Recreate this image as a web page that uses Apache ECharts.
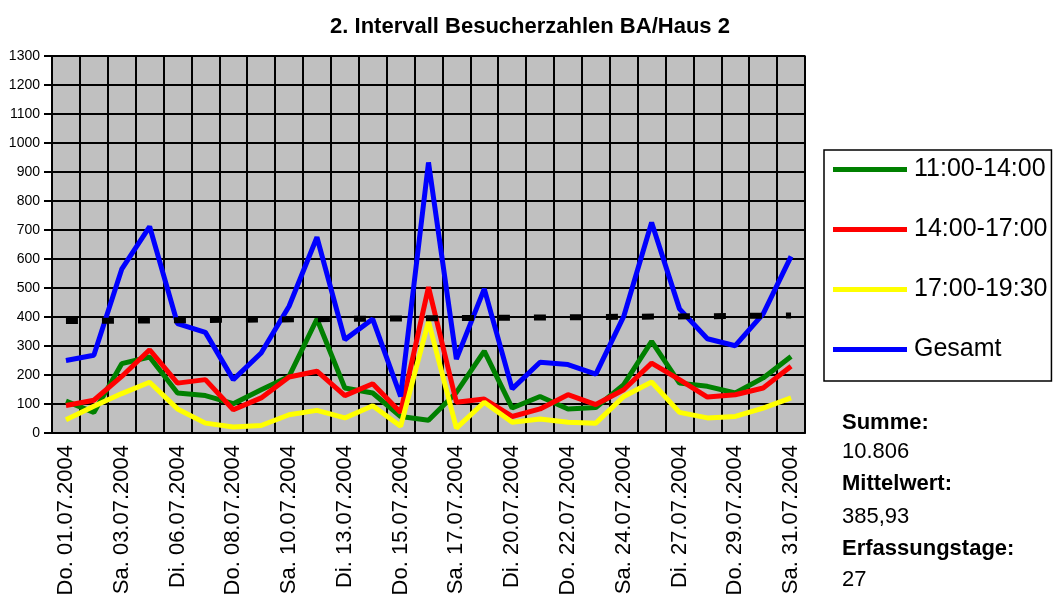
<!DOCTYPE html>
<html>
<head>
<meta charset="utf-8">
<title>2. Intervall Besucherzahlen BA/Haus 2</title>
<script src="https://cdn.jsdelivr.net/npm/echarts@6/dist/echarts.min.js"></script>
<style>
    html, body { margin: 0; padding: 0; background: #fff; }
    #chart { width: 1057px; height: 606px; }
</style>
</head>
<body>
<div id="chart"></div>
<script>
// data
let categories = ["Do. 01.07.2004", "Fr. 02.07.2004", "Sa. 03.07.2004", "Mo. 05.07.2004", "Di. 06.07.2004",
    "Mi. 07.07.2004", "Do. 08.07.2004", "Fr. 09.07.2004", "Sa. 10.07.2004", "Mo. 12.07.2004", "Di. 13.07.2004",
    "Mi. 14.07.2004", "Do. 15.07.2004", "Fr. 16.07.2004", "Sa. 17.07.2004", "Mo. 19.07.2004", "Di. 20.07.2004",
    "Mi. 21.07.2004", "Do. 22.07.2004", "Fr. 23.07.2004", "Sa. 24.07.2004", "Mo. 26.07.2004", "Di. 27.07.2004",
    "Mi. 28.07.2004", "Do. 29.07.2004", "Fr. 30.07.2004", "Sa. 31.07.2004"];
let seriesNames = ["11:00-14:00", "14:00-17:00", "17:00-19:30", "Gesamt"];
let mittag = [110, 71, 239, 262, 138, 129, 101, 149, 195, 393, 155, 138, 57, 44, 140, 282, 86, 126, 83, 88, 167, 316, 172, 161, 138, 190, 264];
let nachmittag = [95, 113, 195, 287, 172, 184, 80, 121, 193, 213, 129, 170, 71, 503, 106, 117, 57, 83, 132, 98, 149, 241, 184, 124, 132, 155, 230];
let abend = [46, 92, 136, 175, 83, 34, 21, 26, 63, 78, 52, 94, 23, 385, 17, 106, 37, 48, 37, 34, 126, 176, 71, 52, 57, 86, 121];
let gesamt = [250, 268, 565, 712, 377, 347, 184, 276, 437, 675, 322, 393, 126, 933, 255, 497, 152, 244, 236, 203, 402, 726, 428, 325, 301, 411, 609];
// dashed average/trend line: value at first and last day
let trend = [386, 405];
let statLabels = ["Summe:", "10.806", "Mittelwert:", "385,93", "Erfassungstage:", "27"];

(function () {
    let chartDom = document.getElementById('chart');
    let myChart = echarts.init(chartDom);
    let font = "'Liberation Sans', Arial, sans-serif";
    let narrow = "'Liberation Sans Narrow', 'Liberation Sans', Arial, sans-serif";

    function lineSeries(name, data, color) {
        return {
            name: name,
            type: 'line',
            data: data,
            symbol: 'none',
            lineStyle: { color: color, width: 5 },
            itemStyle: { color: color }
        };
    }

    // stats text on the right, under the legend
    let statY = [423, 452, 484, 517, 549, 580];
    let graphics = statLabels.map(function (t, i) {
        return {
            type: 'text',
            left: 842,
            top: statY[i] - 11,
            style: {
                text: t,
                fill: '#000',
                font: (i % 2 === 0 ? 'bold ' : '') + '22px ' + font
            }
        };
    });

    let option = {
        animation: false,
        backgroundColor: '#fff',
        title: {
            text: '2. Intervall Besucherzahlen BA/Haus 2',
            left: 525,
            textAlign: 'center',
            top: 11,
            textStyle: { fontFamily: font, fontWeight: 'bold', fontSize: 22, color: '#000' }
        },
        legend: {
            data: seriesNames,
            orient: 'vertical',
            left: 824,
            top: 150,
            icon: 'rect',
            itemWidth: 74,
            itemHeight: 5,
            itemGap: 35,
            padding: [7, 4, 19, 9],
            borderColor: '#000',
            borderWidth: 1.5,
            backgroundColor: '#fff',
            textStyle: { fontFamily: font, fontSize: 25, color: '#000', lineHeight: 25, padding: [0, 0, 0, 2] }
        },
        grid: {
            show: true,
            left: 52,
            right: 252,
            top: 56,
            bottom: 173,
            backgroundColor: '#c0c0c0',
            borderColor: '#808080',
            borderWidth: 2
        },
        xAxis: {
            type: 'category',
            data: categories,
            boundaryGap: true,
            axisLine: { lineStyle: { color: '#000', width: 2 } },
            axisTick: { interval: 0, length: 8, lineStyle: { color: '#000', width: 2 } },
            splitLine: { show: true, interval: 0, lineStyle: { color: '#000', width: 2 } },
            axisLabel: {
                interval: 1,
                rotate: 90,
                margin: 12,
                color: '#000',
                fontFamily: font,
                fontSize: 22
            }
        },
        yAxis: {
            type: 'value',
            min: 0,
            max: 1300,
            interval: 100,
            axisLine: { show: true, lineStyle: { color: '#000', width: 2 } },
            axisTick: { show: true, length: 8, lineStyle: { color: '#000', width: 2 } },
            splitLine: { lineStyle: { color: '#000', width: 2 } },
            axisLabel: {
                margin: 12,
                color: '#000',
                fontFamily: narrow,
                fontSize: 14,
                // no thousands separator, as in the original
                formatter: function (v) { return String(v); }
            }
        },
        series: [
            lineSeries(seriesNames[0], mittag, '#008000'),
            lineSeries(seriesNames[1], nachmittag, '#ff0000'),
            lineSeries(seriesNames[2], abend, '#ffff00'),
            lineSeries(seriesNames[3], gesamt, '#0000ff'),
            {
                name: 'Mittelwert',
                type: 'line',
                data: [[categories[0], trend[0]], [categories[categories.length - 1], trend[1]]],
                symbol: 'none',
                lineStyle: { color: '#000', width: 6, type: [12, 24] }
            }
        ],
        graphic: graphics
    };

    myChart.setOption(option);

    window.addEventListener('resize', function () {
        myChart.resize();
    });
})();
</script>
</body>
</html>
